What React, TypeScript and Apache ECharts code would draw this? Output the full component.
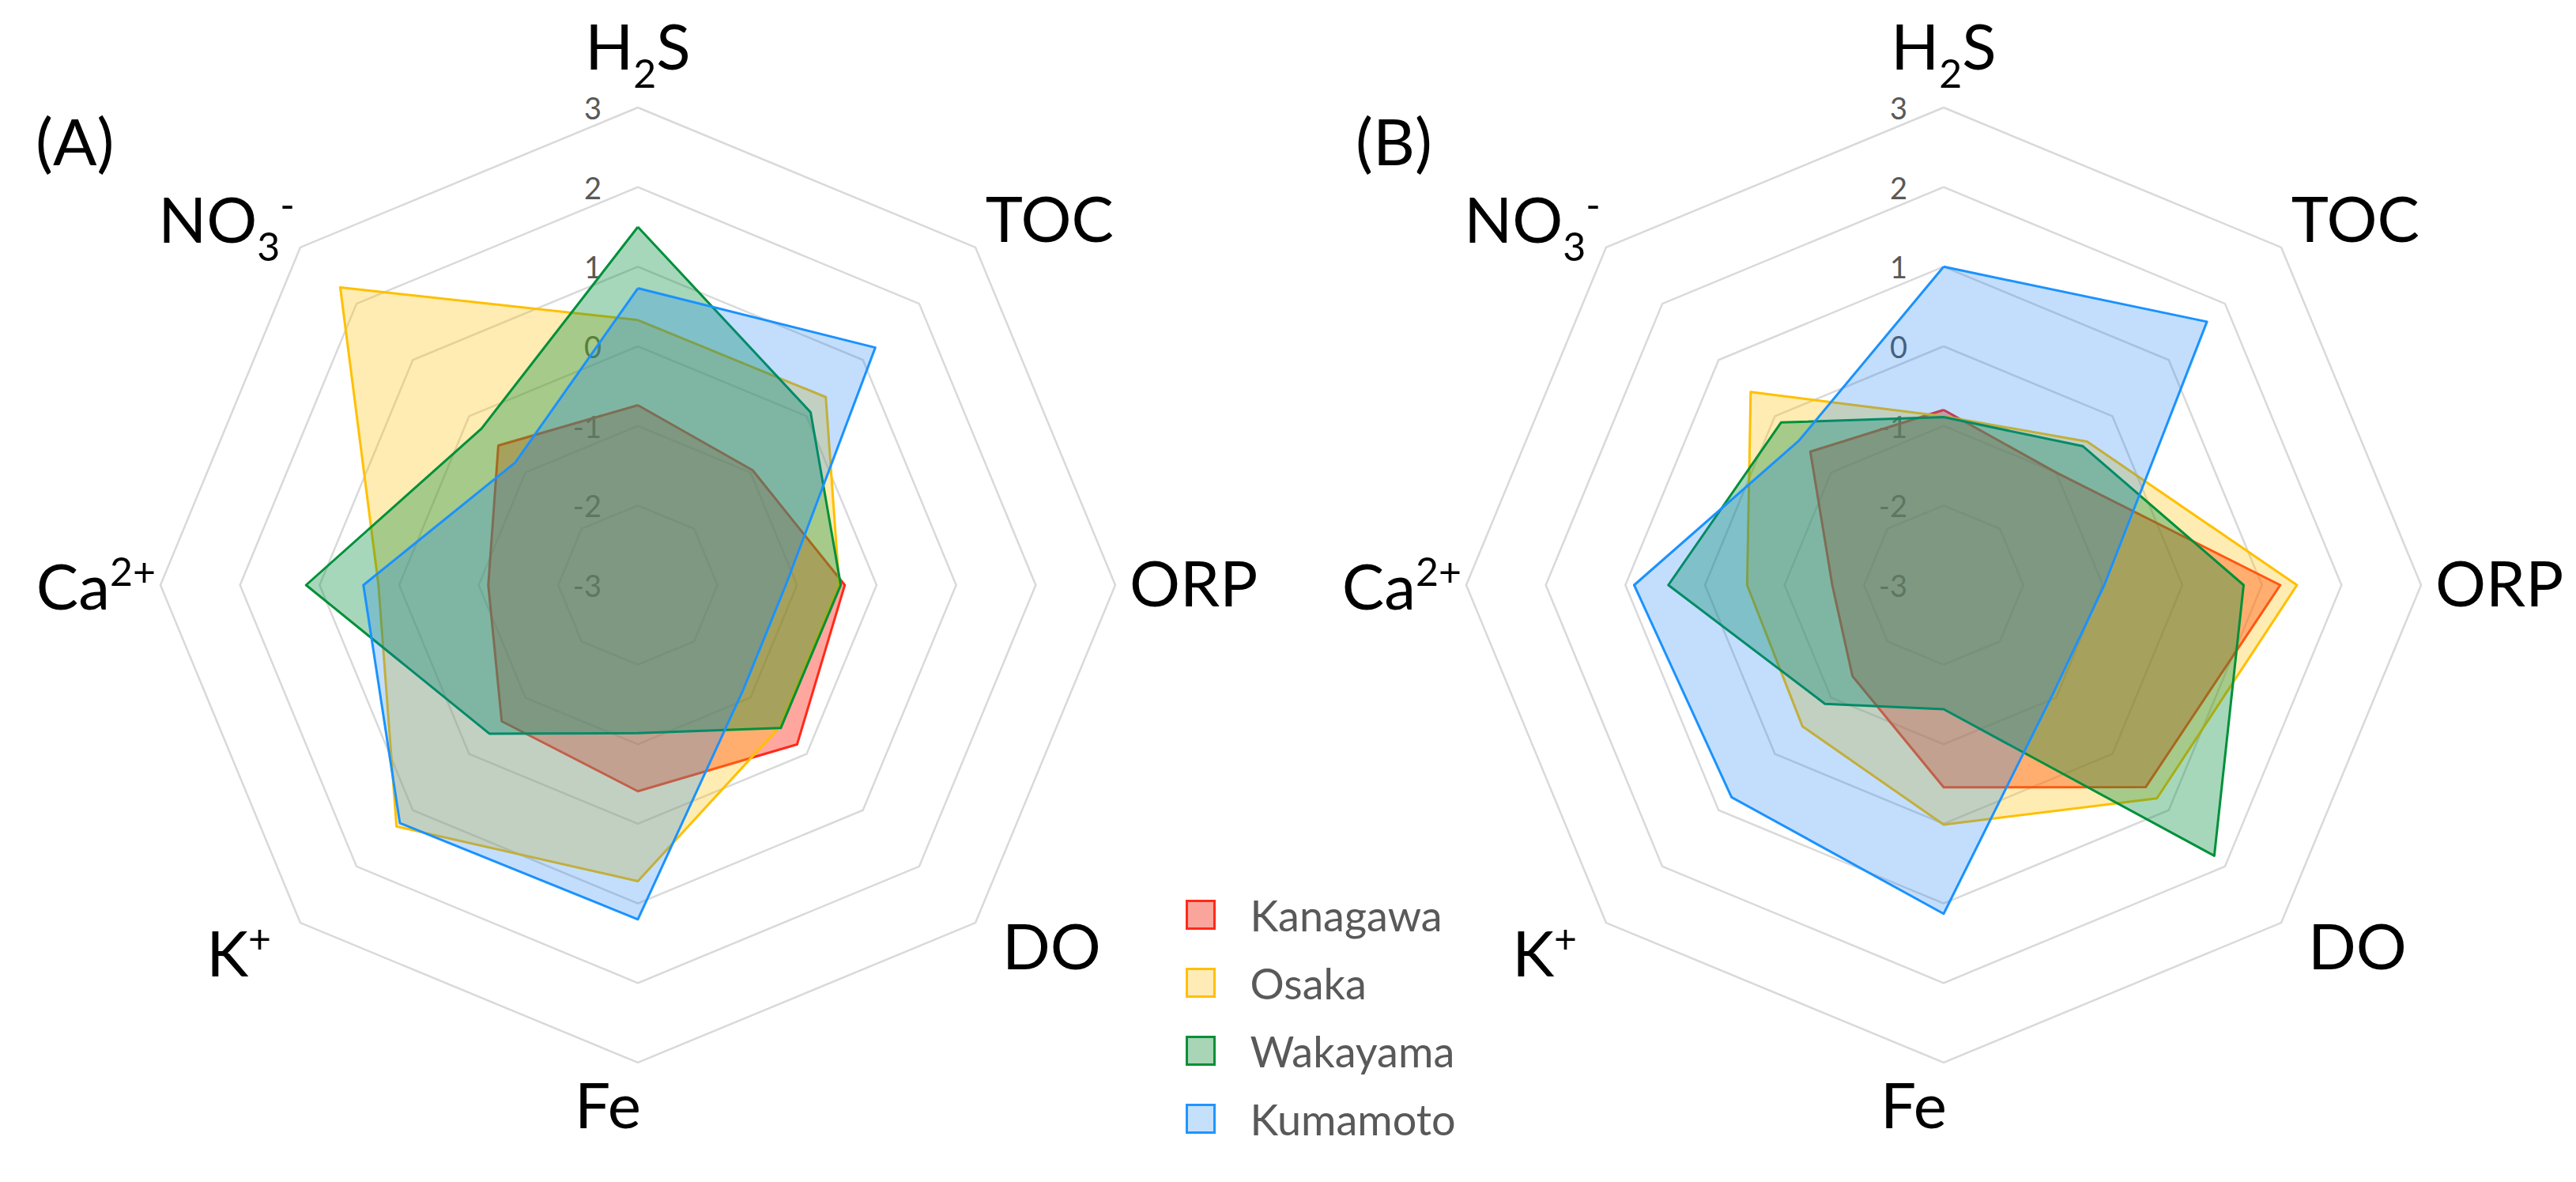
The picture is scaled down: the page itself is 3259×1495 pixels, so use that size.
import React, { useEffect, useRef } from "react";
import * as echarts from "echarts";

// Indicators in ECharts order (counter-clockwise from the top)
const indicatorNames = ["H2S", "NO3-", "Ca2+", "K+", "Fe", "DO", "ORP", "TOC"];
const indicatorRich: Record<string, string> = {
  "H2S": "H{sub|2}S",
  "NO3-": "{nm|NO}{nsub|3}{nsup|-}",
  "Ca2+": "Ca{sup|2+}",
  "K+": "K{sup|+}",
  "Fe": "{fe|Fe}",
  "DO": "{do|DO}",
  "ORP": "{orp|ORP}",
  "TOC": "{toc|TOC}",
};
const nameGaps = [13, 10, 6, 52, 12, 48, 18, 18];
const axisMin = -3;
const axisMax = 3;

const prefectures = ["Kanagawa", "Osaka", "Wakayama", "Kumamoto"];
const lineColors = ["#FF2A1A", "#FFC000", "#00913A", "#1E96FF"];
const fillColors = ["#FF2A1A", "#FFC000", "#008C3C", "#0A7CF5"];
const fillOpacity = [0.42, 0.3, 0.35, 0.25];
const legendFill = ["#F9A59C", "#FFEBB5", "#A8D5B5", "#C5E0FA"];

// values order: H2S, NO3-, Ca2+, K+, Fe, DO, ORP, TOC
const kanagawaA = [-0.74, -0.52, -1.12, -0.58, -0.41, -0.17, -0.4, -0.96];
const osakaA = [0.33, 2.29, 0.26, 1.29, 0.72, -0.48, -0.47, 0.34];
const wakayamaA = [1.5, -0.22, 1.17, -0.36, -1.14, -0.46, -0.45, 0.07];
const kumamotoA = [0.73, -0.82, 0.45, 1.23, 1.2, -1.13, -1.14, 1.22];

const kanagawaB = [-0.8, -0.63, -1.6, -1.38, -0.46, 0.59, 1.23, -1.0];
const osakaB = [-0.88, 0.43, -0.53, -0.49, 0.01, 0.79, 1.44, -0.45];
const wakayamaB = [-0.89, -0.11, 0.46, -0.89, -1.44, 1.81, 0.77, -0.53];
const kumamotoB = [1.0, -0.43, 0.89, 0.77, 1.13, -1.06, -0.98, 1.68];

const panelLabels = ["(A)", "(B)"];
const FONT = "Lato";

function buildIndicators() {
  return indicatorNames.map((n, i) => {
    const ind: any = { name: n, min: axisMin, max: axisMax, nameGap: nameGaps[i] };
    if (i === 0) {
      ind.axisLabel = { show: true };
    }
    return ind;
  });
}

const base = { fontSize: 80, fontFamily: FONT, color: "#000000", lineHeight: 80 };

function buildRadar(center: number[]) {
  return {
    center,
    radius: 604,
    startAngle: 90,
    splitNumber: 6,
    shape: "polygon",
    indicator: buildIndicators(),
    axisName: {
      show: true,
      color: "#000000",
      fontSize: 80,
      fontFamily: FONT,
      lineHeight: 80,
      formatter: (v: string) => indicatorRich[v] ?? v,
      rich: {
        sub: { ...base, fontSize: 50, verticalAlign: "bottom", lineHeight: 120 },
        sup: { ...base, fontSize: 50, verticalAlign: "top", lineHeight: 100, padding: [7, 0, 0, 0] },
        nm: { ...base, padding: [0, 0, 60, 0] },
        nsub: { ...base, fontSize: 50, verticalAlign: "bottom", lineHeight: 180, padding: [0, 0, 60, 0] },
        nsup: { ...base, fontSize: 50, verticalAlign: "top", lineHeight: 100, padding: [17, 0, 0, 0] },
        fe: { ...base, padding: [0, 76, 0, 0] },
        do: { ...base, padding: [0, 0, 12, 0] },
        orp: { ...base, padding: [0, 0, 8, 0] },
        toc: { ...base, padding: [0, 0, 50, 0] },
      },
    },
    axisLine: { show: false },
    axisTick: { show: false },
    axisLabel: {
      show: false,
      color: "#595959",
      fontSize: 38,
      fontFamily: FONT,
      margin: 46,
      showMinLabel: true,
      showMaxLabel: true,
    },
    splitLine: { lineStyle: { color: "#D9D9D9", width: 2.5 } },
    splitArea: { show: false },
  };
}

function buildSeries(radarIndex: number, sets: number[][]) {
  return {
    type: "radar",
    radarIndex,
    symbol: "none",
    data: sets.map((vals, i) => ({
      name: prefectures[i],
      value: vals,
      itemStyle: { color: lineColors[i] },
      lineStyle: { color: lineColors[i], width: 3 },
      areaStyle: { color: fillColors[i], opacity: fillOpacity[i] },
    })),
  };
}

export default function App() {
  const ref = useRef<HTMLDivElement>(null);
  useEffect(() => {
    if (!ref.current) return;
    const chart = echarts.init(ref.current, undefined, { renderer: "svg" });
    chart.setOption({
      animation: false,
      backgroundColor: "#ffffff",
      title: [
        {
          text: panelLabels[0],
          left: 40,
          top: 131,
          textStyle: { fontSize: 82, fontWeight: "normal", fontFamily: FONT, color: "#000" },
        },
        {
          text: panelLabels[1],
          left: 1710,
          top: 131,
          textStyle: { fontSize: 82, fontWeight: "normal", fontFamily: FONT, color: "#000" },
        },
      ],
      legend: {
        orient: "vertical",
        left: 1500,
        top: 1130,
        padding: 0,
        itemWidth: 35,
        itemHeight: 35,
        itemGap: 32,
        icon: "rect",
        selectedMode: false,
        textStyle: { fontSize: 54, fontFamily: FONT, color: "#595959", padding: [0, 0, 0, 40] },
        data: prefectures.map((p, i) => ({
          name: p,
          itemStyle: { color: legendFill[i], borderColor: lineColors[i], borderWidth: 3 },
        })),
      },
      radar: [buildRadar([807, 740]), buildRadar([2459, 740])],
      series: [
        buildSeries(0, [kanagawaA, osakaA, wakayamaA, kumamotoA]),
        buildSeries(1, [kanagawaB, osakaB, wakayamaB, kumamotoB]),
      ],
    });
    return () => chart.dispose();
  }, []);
  return (
    <div
      ref={ref}
      style={{ position: "absolute", left: 0, top: 0, width: 3259, height: 1495 }}
    />
  );
}
